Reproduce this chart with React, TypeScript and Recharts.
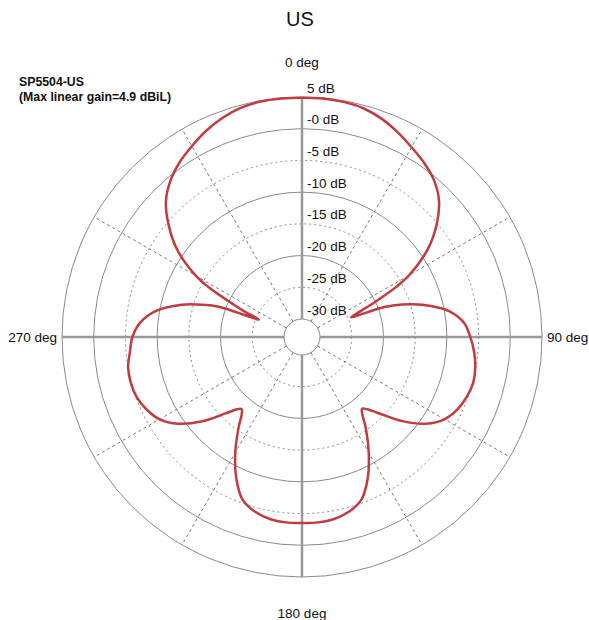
import React from 'react';
import {
  RadarChart,
  Radar,
  PolarGrid,
  PolarAngleAxis,
  PolarRadiusAxis
} from 'recharts';

// pattern samples: compass angle (deg, clockwise from top) and gain (dB)
const angles = [
  0, 5, 10, 15, 20, 25, 30, 35, 40, 45, 50, 55, 60, 62, 64, 66, 68, 70, 72, 75, 80, 85, 90,
  95, 100, 105, 110, 115, 120, 125, 130, 135, 138, 140, 142, 145, 150, 155, 160, 165, 170, 175, 180,
  185, 190, 195, 200, 205, 210, 215, 218, 220, 222, 225, 230, 235, 240, 245, 250, 255, 260, 265, 270,
  275, 280, 285, 288, 290, 292, 294, 296, 298, 300, 305, 310, 315, 320, 325, 330, 335, 340, 345, 350, 355
];
const gains = [
  4.9, 4.9, 4.8, 4.5, 3.8, 2.8, 1.7, 0.7, -0.5, -2.3, -5.1, -8.6, -13.3, -16.0, -19.5, -22.5, -24.5, -19.0, -16.3, -13.2, -9.3, -7.2, -6.3,
  -5.6, -5.1, -4.9, -5.2, -5.8, -6.9, -9.0, -12.2, -15.9, -17.5, -18.1, -17.4, -15.3, -11.8, -8.3, -5.5, -4.3, -3.7, -3.5, -3.5,
  -3.5, -3.7, -4.3, -5.5, -8.3, -11.8, -15.4, -17.4, -18.0, -17.5, -15.8, -12.1, -9.0, -6.9, -5.8, -5.1, -4.9, -5.0, -5.6, -6.1,
  -7.2, -9.4, -13.2, -16.4, -18.9, -25.5, -22.8, -20.0, -16.3, -13.5, -8.8, -5.4, -2.5, -0.6, 0.8, 1.9, 3.0, 3.9, 4.55, 4.85, 4.9
];

const dbTicks = [5, 0, -5, -10, -15, -20, -25, -30];
const solidRings = [5, 0, -10, -20, -30];
const dottedRings = [-5, -15, -25];
const angleTicks = [0, 90, 180, 270];
const minorSpokes = [30, 60, 120, 150, 210, 240, 300, 330];
const majorSpokes = [0, 90, 180, 270];

const data = angles.map((a, i) => ({ angle: a, gain: gains[i] }));

const W = 589;
const H = 620;
const CX = 302;
const CY = 337;
const INNER = 18;
const OUTER = 240;
const DB_MIN = -30;
const DB_MAX = 5;
const FONT = '"Liberation Sans", Arial, sans-serif';

const ringRadius = (db: number) => INNER + ((db - DB_MIN) / (DB_MAX - DB_MIN)) * (OUTER - INNER);
// compass degrees -> recharts polar degrees
const toPolar = (a: number) => 90 - a;

// closed centripetal catmull-rom through the radar points
const smoothClosedPath = (pts: { x: number; y: number }[]) => {
  const n = pts.length;
  if (n < 3) return '';
  const dist = (a: any, b: any) => Math.hypot(b.x - a.x, b.y - a.y);
  let d = `M${pts[0].x},${pts[0].y}`;
  for (let i = 0; i < n; i++) {
    const p0 = pts[(i - 1 + n) % n];
    const p1 = pts[i];
    const p2 = pts[(i + 1) % n];
    const p3 = pts[(i + 2) % n];
    const l01 = Math.sqrt(dist(p0, p1));
    const l12 = Math.sqrt(dist(p1, p2));
    const l23 = Math.sqrt(dist(p2, p3));
    const l01s = l01 * l01;
    const l12s = l12 * l12;
    const l23s = l23 * l23;
    let x1 = p1.x, y1 = p1.y, x2 = p2.x, y2 = p2.y;
    if (l01 > 1e-6) {
      const a = 2 * l01s + 3 * l01 * l12 + l12s;
      const m = 3 * l01 * (l01 + l12);
      x1 = (p1.x * a - p0.x * l12s + p2.x * l01s) / m;
      y1 = (p1.y * a - p0.y * l12s + p2.y * l01s) / m;
    }
    if (l23 > 1e-6) {
      const b = 2 * l23s + 3 * l23 * l12 + l12s;
      const m = 3 * l23 * (l23 + l12);
      x2 = (p2.x * b + p1.x * l23s - p3.x * l12s) / m;
      y2 = (p2.y * b + p1.y * l23s - p3.y * l12s) / m;
    }
    d += `C${x1},${y1},${x2},${y2},${p2.x},${p2.y}`;
  }
  return d + 'Z';
};

const SmoothRadarShape = (props: any) => (
  <path
    d={smoothClosedPath(props.points || [])}
    fill="none"
    stroke={props.stroke}
    strokeWidth={props.strokeWidth}
    strokeLinejoin="round"
  />
);

const renderDbTick = (props: any) => {
  const { x, y, payload } = props;
  const v = payload.value;
  const label = v === 0 ? '-0 dB' : `${v} dB`;
  return (
    <text x={x + 5} y={y - 9} dominantBaseline="central" fontSize={13.5} fontFamily={FONT} fill="#111">
      {label}
    </text>
  );
};

const renderAngleTick = (props: any) => {
  const v = props.payload.value;
  let x = CX;
  let y = CY;
  let anchor: 'start' | 'middle' | 'end' = 'middle';
  if (v === 0) y = CY - OUTER - 35;
  else if (v === 180) y = CY + OUTER + 36;
  else if (v === 90) { x = CX + OUTER + 5; anchor = 'start'; }
  else { x = CX - OUTER - 5; anchor = 'end'; }
  return (
    <text x={x} y={y} textAnchor={anchor} dominantBaseline="central" fontSize={13.5} fontFamily={FONT} fill="#111">
      {`${v} deg`}
    </text>
  );
};

export default function App() {
  return (
    <div style={{ position: 'absolute', left: 0, top: 0, width: W, height: H, background: '#fff' }}>
      <RadarChart
        width={W}
        height={H}
        cx={CX}
        cy={CY}
        innerRadius={INNER}
        outerRadius={OUTER}
        data={data}
        startAngle={90}
        endAngle={-270}
      >
        <PolarGrid gridType="circle" radialLines={false} polarRadius={dottedRings.map(ringRadius)} stroke="#888" strokeDasharray="2 3" />
        <PolarGrid gridType="circle" radialLines={false} polarRadius={solidRings.map(ringRadius)} stroke="#8a8a8a" />
        <PolarGrid gridType="circle" polarAngles={minorSpokes.map(toPolar)} polarRadius={[]} stroke="#777" strokeDasharray="3 3" />
        <PolarGrid gridType="circle" polarAngles={majorSpokes.map(toPolar)} polarRadius={[]} stroke="#999" strokeWidth={2.5} />
        <PolarAngleAxis
          dataKey="angle"
          type="number"
          domain={[0, 360]}
          ticks={angleTicks}
          tick={renderAngleTick}
          axisLine={false}
          tickLine={false}
        />
        <PolarRadiusAxis
          angle={90}
          type="number"
          domain={[DB_MIN, DB_MAX]}
          ticks={dbTicks}
          tick={renderDbTick}
          axisLine={false}
          tickLine={false}
        />
        <Radar
          dataKey="gain"
          stroke="#c23b3f"
          strokeWidth={2.5}
          fill="none"
          dot={false}
          shape={SmoothRadarShape}
          isAnimationActive={false}
        />
      </RadarChart>
      <svg width={W} height={110} style={{ position: 'absolute', left: 0, top: 0, pointerEvents: 'none' }}>
        <text x={300} y={26} textAnchor="middle" fontSize={20} fontFamily={FONT} fill="#111">US</text>
        <text x={19} y={86} fontSize={12.3} fontWeight="bold" fontFamily={FONT} fill="#111">SP5504-US</text>
        <text x={19} y={100.5} fontSize={12.3} fontWeight="bold" fontFamily={FONT} fill="#111">(Max linear gain=4.9 dBiL)</text>
      </svg>
    </div>
  );
}
